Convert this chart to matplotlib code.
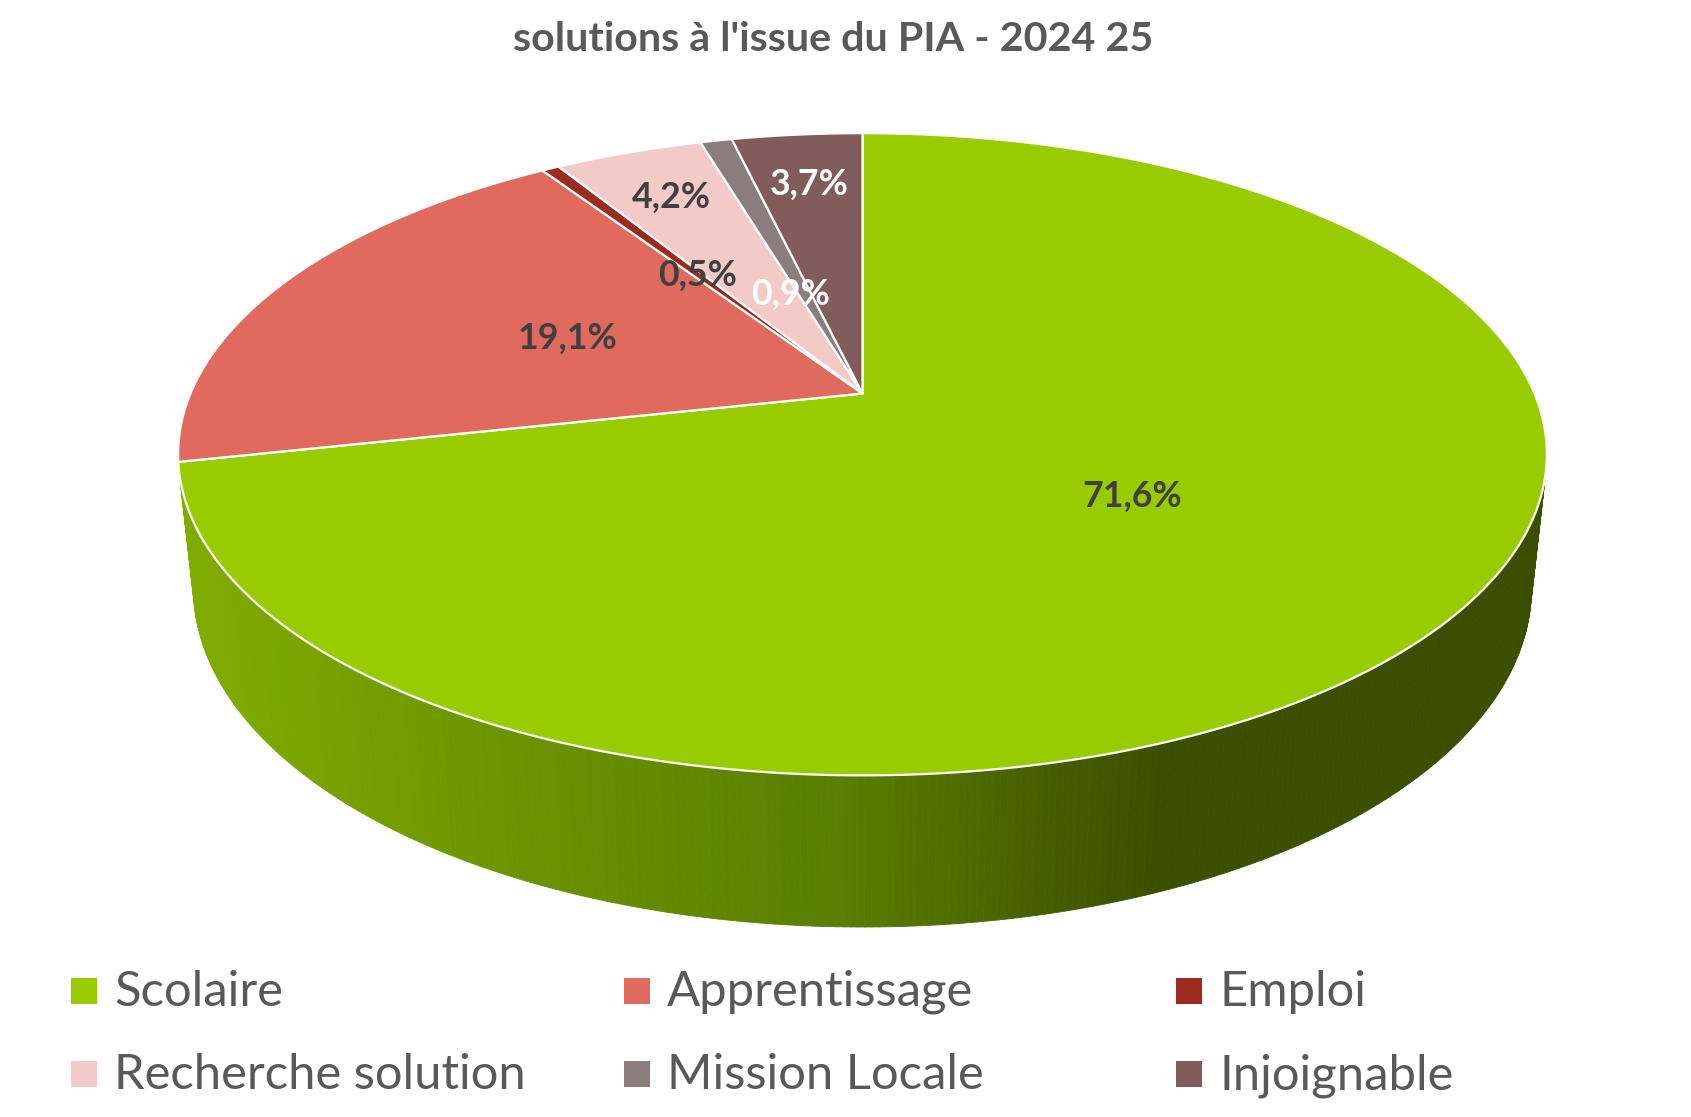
import math
import numpy as np
import matplotlib
matplotlib.use("Agg")
import matplotlib.pyplot as plt
from matplotlib.patches import Polygon, Rectangle
from matplotlib.collections import PolyCollection
from matplotlib.colors import to_rgb

# ---------------- data ----------------
title = "solutions à l'issue du PIA - 2024 25"
categories = ["Scolaire", "Apprentissage", "Emploi",
              "Recherche solution", "Mission Locale", "Injoignable"]
values = [71.6, 19.1, 0.5, 4.2, 0.9, 3.7]
labels = ["71,6%", "19,1%", "0,5%", "4,2%", "0,9%", "3,7%"]

# ---------------- style ----------------
colors = ["#99CC00", "#DF6A5D", "#9A2B1E", "#F2CAC7", "#8B7D7E", "#825B5B"]
label_colors = ["#404040", "#404040", "#404040", "#404040", "#FFFFFF", "#FFFFFF"]
# label anchor on the unit disc: (angle override or None for mid-angle, radius)
label_anchor = [(129.6, 0.49), (None, 0.49), (None, 0.49), (None, 0.79),
                (341.6, 0.36), (None, 0.78)]
text_grey = "#595959"
FONT = ["Lato", "DejaVu Sans"]

W, H = 1691, 1117
fig = plt.figure(figsize=(W / 100, H / 100), dpi=100)
ax = fig.add_axes([0, 0, 1, 1])
ax.set_xlim(0, W)
ax.set_ylim(H, 0)
ax.axis("off")

# ---------------- 3D projection of the pie ----------------
cx, cy = 862.5, 393.5
A = 672.0
sin_a = 0.4607
cos_a = math.sqrt(1 - sin_a ** 2)
D = 4.69
thick = 0.226


def proj(theta_deg, r, Y):
    t = np.radians(theta_deg)
    X = r * np.sin(t)
    Z = r * np.cos(t)
    w = 1 + (cos_a / D) * Z - (sin_a / D) * Y
    sx = cx + A * X / w
    sy = cy - A * (Y * cos_a + Z * sin_a) / w
    return sx, sy


total = float(sum(values))
bounds = np.concatenate([[0.0], np.cumsum(values) / total * 360.0])

# side gradient (screen-x based shading of the green wall)
grad_x = [180, 520, 850, 1050, 1160, 1700]
grad_c = [to_rgb(c) for c in ["#80AD00", "#6B9300", "#587D00", "#455D00",
                              "#3B4F00", "#3B4E00"]]


def side_color(x, base):
    if base != colors[0]:
        r, g, b = to_rgb(base)
        return (r * 0.6, g * 0.6, b * 0.6)
    return tuple(np.interp(x, grad_x, [c[i] for c in grad_c]) for i in range(3))


def signed_area(pts):
    x, y = pts[:, 0], pts[:, 1]
    return 0.5 * np.sum(x * np.roll(y, -1) - np.roll(x, -1) * y)


def wall_quad(t0, t1):
    return np.array([proj(t0, 1, 0), proj(t1, 1, 0),
                     proj(t1, 1, -thick), proj(t0, 1, -thick)])


front_sign = np.sign(signed_area(wall_quad(179, 181)))

quads, qcols = [], []
step = 0.5
for i in range(len(values)):
    a0, a1 = bounds[i], bounds[i + 1]
    n = max(2, int(math.ceil((a1 - a0) / step)))
    th = np.linspace(a0, a1, n + 1)
    for j in range(n):
        pts = wall_quad(th[j], th[j + 1])
        if np.sign(signed_area(pts)) == front_sign:
            quads.append(pts)
            qcols.append(side_color(pts[:, 0].mean(), colors[i]))

ax.add_collection(PolyCollection(quads, facecolors=qcols, edgecolors=qcols,
                                 linewidths=0.6, antialiased=True, zorder=1))

# top face wedges
for i in range(len(values)):
    a0, a1 = bounds[i], bounds[i + 1]
    n = max(4, int(math.ceil((a1 - a0) / 0.5)))
    th = np.linspace(a0, a1, n + 1)
    xs, ys = proj(th, 1, 0)
    pts = np.vstack([[proj(0, 0, 0)], np.column_stack([xs, ys])])
    ax.add_patch(Polygon(pts, closed=True, facecolor=colors[i],
                         edgecolor="white", linewidth=1.6, joinstyle="round",
                         zorder=2))


# ---------------- text helpers ----------------
def fit_size(s, target_w, weight="normal"):
    t = ax.text(0, 0, s, fontsize=20, family=FONT, fontweight=weight)
    fig.canvas.draw()
    bb = t.get_window_extent(renderer=fig.canvas.get_renderer())
    t.remove()
    return 20 * target_w / bb.width


# data labels
lab_size = fit_size("71,6%", 100, "bold")
for i, s in enumerate(labels):
    ang, r = label_anchor[i]
    if ang is None:
        ang = 0.5 * (bounds[i] + bounds[i + 1])
    lx, ly = proj(ang, r, 0)
    ax.text(lx, ly, s, ha="center", va="center", fontsize=lab_size,
            fontweight="bold", color=label_colors[i], family=FONT, zorder=5)

# title
title_size = fit_size(title, 640, "bold")
ax.text(833, 51, title, ha="center", va="baseline", fontsize=title_size,
        fontweight="bold", color=text_grey, family=FONT, zorder=5)

# legend
leg_size = fit_size("Recherche solution", 414)
col_x = [71, 624, 1176]
row_y = [991, 1074]
sq = 26
for i, name in enumerate(categories):
    c = i % 3
    r = i // 3
    x0 = col_x[c]
    yc = row_y[r]
    ax.add_patch(Rectangle((x0, yc - sq / 2), sq, sq, facecolor=colors[i],
                           edgecolor="none", zorder=5))
    ax.text(x0 + 43, yc + 15, name, ha="left", va="baseline", fontsize=leg_size,
            color=text_grey, family=FONT, zorder=5)

fig.savefig("out.png", dpi=100, facecolor="white")
